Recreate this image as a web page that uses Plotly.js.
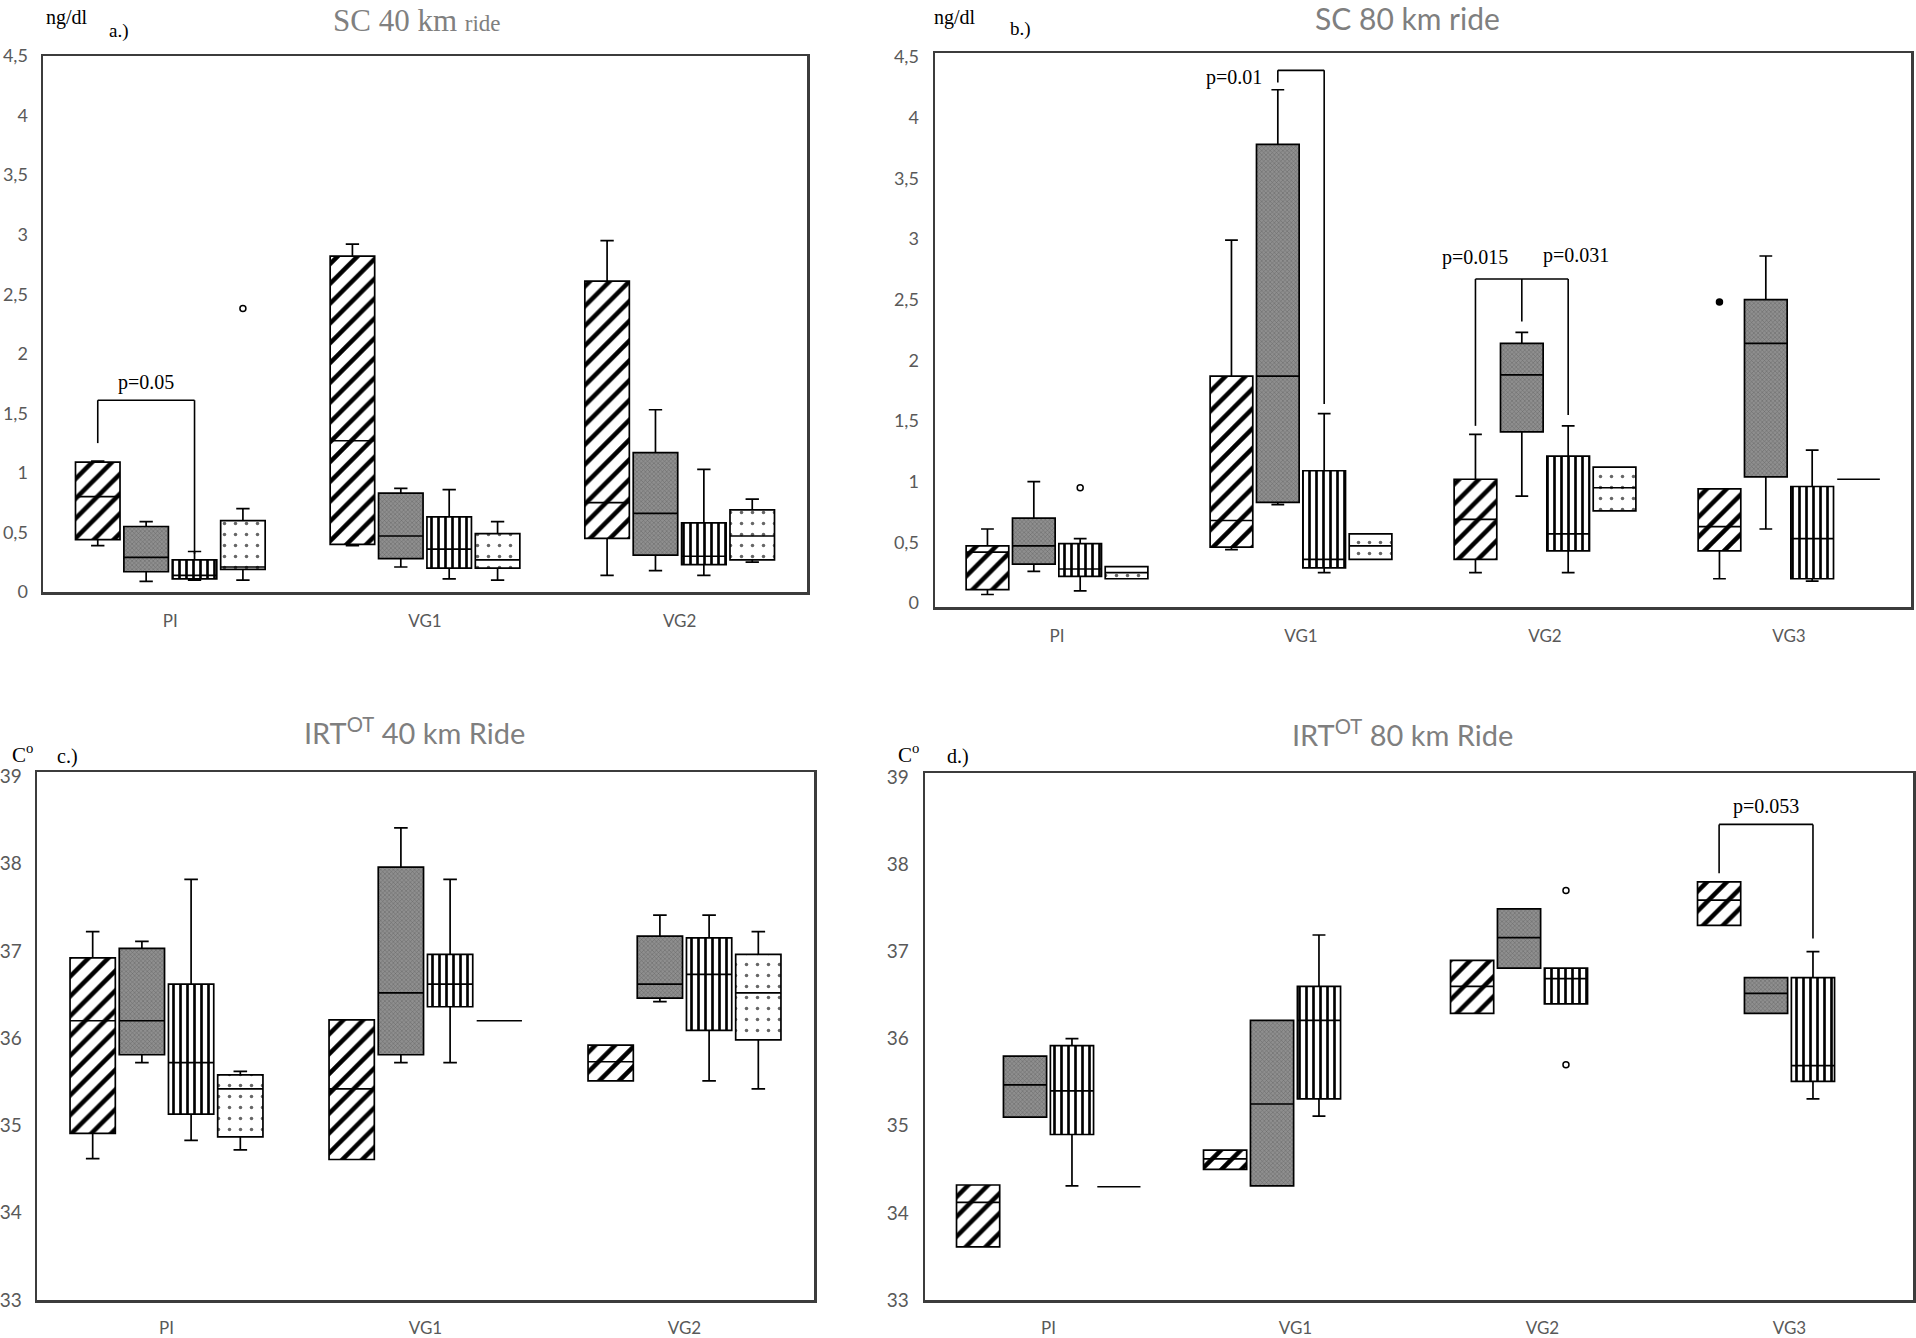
<!DOCTYPE html>
<html>
<head>
<meta charset="utf-8">
<script src="https://cdn.plot.ly/plotly-3.0.1.min.js"></script>
<style>
  body { margin: 0; background: #fff; }
  #plot { width: 1916px; height: 1338px; }
</style>
</head>
<body>
<div id="plot"></div>
<script>
// categories
const catsA = ["PI", "VG1", "VG2"];
const catsB = ["PI", "VG1", "VG2", "VG3"];
const catsC = ["PI", "VG1", "VG2"];
const catsD = ["PI", "VG1", "VG2", "VG3"];

// series order: diagonal hatch, grey, vertical stripes, dotted
// each array is [series][category], null = no box

// a.) SC 40 km ride
const aLow  = [[0.39, 0.39, 0.14], [0.09, 0.21, 0.18], [0.10, 0.11, 0.14], [0.10, 0.10, 0.25]];
const aQ1   = [[0.44, 0.40, 0.45], [0.17, 0.28, 0.31], [0.11, 0.20, 0.23], [0.19, 0.20, 0.27]];
const aMed  = [[0.80, 1.27, 0.75], [0.29, 0.47, 0.66], [0.14, 0.36, 0.30], [0.21, 0.27, 0.47]];
const aQ3   = [[1.09, 2.82, 2.61], [0.55, 0.83, 1.17], [0.27, 0.63, 0.58], [0.60, 0.49, 0.69]];
const aHigh = [[1.10, 2.92, 2.95], [0.59, 0.87, 1.53], [0.34, 0.86, 1.03], [0.70, 0.59, 0.78]];
const aOut  = [[[], [], []], [[], [], []], [[], [], []], [[2.38], [], []]];

// b.) SC 80 km ride
const bLow  = [[0.07, 0.44, 0.25, 0.20], [0.26, 0.81, 0.88, 0.61], [0.10, 0.25, 0.25, 0.18], [0.20, 0.36, 0.76, 1.02]];
const bQ1   = [[0.11, 0.46, 0.36, 0.43], [0.32, 0.83, 1.41, 1.04], [0.22, 0.29, 0.43, 0.20], [0.20, 0.36, 0.76, 1.02]];
const bMed  = [[0.42, 0.68, 0.69, 0.63], [0.47, 1.87, 1.88, 2.14], [0.28, 0.36, 0.57, 0.53], [0.25, 0.47, 0.95, 1.02]];
const bQ3   = [[0.47, 1.87, 1.02, 0.94], [0.70, 3.78, 2.14, 2.50], [0.49, 1.09, 1.21, 0.96], [0.30, 0.57, 1.12, 1.02]];
const bHigh = [[0.61, 2.99, 1.39, 0.94], [1.00, 4.23, 2.23, 2.86], [0.53, 1.56, 1.46, 1.26], [0.30, 0.57, 1.12, 1.02]];
const bOut  = [[[], [], [], [2.48]], [[], [], [], []], [[0.95], [], [], []], [[], [], [], []]];

// c.) IRT 40 km Ride
const cLow  = [[34.62, 34.61, 35.51], [35.72, 35.72, 36.42], [34.83, 35.72, 35.51], [34.72, 36.20, 35.42]];
const cQ1   = [[34.91, 34.61, 35.51], [35.81, 35.81, 36.46], [35.13, 36.36, 36.09], [34.87, 36.20, 35.98]];
const cMed  = [[36.20, 35.42, 35.73], [36.20, 36.52, 36.62], [35.72, 36.62, 36.73], [35.42, 36.20, 36.52]];
const cQ3   = [[36.92, 36.21, 35.92], [37.03, 37.96, 37.17], [36.62, 36.96, 37.15], [35.58, 36.20, 36.96]];
const cHigh = [[37.22, 36.21, 35.92], [37.11, 38.41, 37.41], [37.82, 37.82, 37.41], [35.62, 36.20, 37.22]];
const cOut  = [[[], [], []], [[], [], []], [[], [], []], [[], [], []]];

// d.) IRT 80 km Ride
const dLow  = [[33.61, 34.50, 36.29, 37.30], [35.10, 34.31, 36.81, 36.29], [34.31, 35.11, 36.40, 35.31], [34.30, null, null, null]];
const dQ1   = [[33.61, 34.50, 36.29, 37.30], [35.10, 34.31, 36.81, 36.29], [34.90, 35.31, 36.40, 35.51], [34.30, null, null, null]];
const dMed  = [[34.12, 34.62, 36.60, 37.59], [35.47, 35.25, 37.16, 36.52], [35.40, 36.21, 36.69, 35.69], [34.30, null, null, null]];
const dQ3   = [[34.32, 34.72, 36.90, 37.80], [35.80, 36.21, 37.49, 36.70], [35.92, 36.60, 36.81, 36.70], [34.30, null, null, null]];
const dHigh = [[34.32, 34.72, 36.90, 37.80], [35.80, 36.21, 37.49, 36.70], [36.00, 37.19, 36.81, 37.00], [34.30, null, null, null]];
const dOut  = [[[], [], [], []], [[], [], [], []], [[], [], [37.70, 35.70], []], [[], [], [], []]];

const BOXGAP = 0.24;
const GROUPGAP = 0.08;

// fill look of each series
const seriesStyles = [
  { shape: "/", bg: "#ffffff", fg: "#000000", size: 14, solidity: 0.32 },
  { shape: "x", bg: "#8f8f8f", fg: "#666666", size: 3, solidity: 0.3 },
  { shape: "|", bg: "#ffffff", fg: "#000000", size: 7, solidity: 0.38 },
  { shape: ".", bg: "#ffffff", fg: "#666666", size: 11, solidity: 0.08 },
];

// bars (pattern fill) live on x<n>, boxes (outline, median, whiskers) on an overlaid x axis
function panelTraces(n, boxAxis, cats, low, q1, med, q3, high, outs, outSym) {
  let traces = [];
  for (let k = 0; k < 4; k++) {
    let idx = cats.map((c, i) => i).filter((i) => q1[k][i] !== null);
    let xs = idx.map((i) => cats[i]);
    let st = seriesStyles[k];
    traces.push({
      type: "bar",
      x: xs,
      base: idx.map((i) => q1[k][i]),
      y: idx.map((i) => q3[k][i] - q1[k][i]),
      xaxis: "x" + n,
      yaxis: "y" + n,
      offsetgroup: "s" + k,
      marker: {
        color: st.bg,
        line: { width: 0 },
        pattern: { shape: st.shape, fgcolor: st.fg, bgcolor: st.bg, size: st.size, solidity: st.solidity },
      },
      hoverinfo: "skip",
      showlegend: false,
    });
    let box = {
      type: "box",
      orientation: "v",
      x: xs,
      q1: idx.map((i) => q1[k][i]),
      median: idx.map((i) => med[k][i]),
      q3: idx.map((i) => q3[k][i]),
      lowerfence: idx.map((i) => low[k][i]),
      upperfence: idx.map((i) => high[k][i]),
      offsetgroup: "s" + k,
      whiskerwidth: 0.3,
      fillcolor: "rgba(0,0,0,0)",
      line: { color: "#000000", width: 1.7 },
      xaxis: boxAxis,
      yaxis: "y" + n,
      hoverinfo: "skip",
      showlegend: false,
    };
    let hasOut = idx.some((i) => outs[k][i].length > 0);
    if (hasOut) {
      // boxes without outliers get their median as the only sample, which stays hidden inside the fences
      box.y = idx.map((i) => (outs[k][i].length > 0 ? outs[k][i] : [med[k][i]]));
      box.boxpoints = "outliers";
      box.pointpos = 0;
      box.jitter = 0;
      box.marker = { symbol: outSym[k], size: 6, color: "#000000", line: { color: "#000000", width: 1.5 } };
    } else {
      box.boxpoints = false;
    }
    traces.push(box);
  }
  return traces;
}

const openSym = ["circle-open", "circle-open", "circle-open", "circle-open"];
const bSym = ["circle", "circle-open", "circle-open", "circle-open"];

let data = []
  .concat(panelTraces("", "x5", catsA, aLow, aQ1, aMed, aQ3, aHigh, aOut, openSym))
  .concat(panelTraces(2, "x6", catsB, bLow, bQ1, bMed, bQ3, bHigh, bOut, bSym))
  .concat(panelTraces(3, "x7", catsC, cLow, cQ1, cMed, cQ3, cHigh, cOut, openSym))
  .concat(panelTraces(4, "x8", catsD, dLow, dQ1, dMed, dQ3, dHigh, dOut, openSym));

const W = 1916;
const H = 1338;
const px = (x) => x / W;
const py = (y) => 1 - y / H;

function xAxis(x0, x1, yName, cats, standoff) {
  return {
    domain: [px(x0), px(x1)],
    anchor: yName,
    type: "category",
    categoryorder: "array",
    categoryarray: cats,
    range: [-0.5, cats.length - 0.5],
    showline: true,
    mirror: true,
    linecolor: "#3c3c3c",
    linewidth: 2.5,
    ticks: "",
    showgrid: false,
    zeroline: false,
    ticklabelstandoff: standoff,
    tickfont: { family: "Lato", size: 17, color: "#595959" },
    fixedrange: true,
  };
}

// invisible twin of a category axis, carrying the boxes
function twinAxis(base, yName, cats) {
  return {
    overlaying: base,
    anchor: yName,
    type: "category",
    categoryorder: "array",
    categoryarray: cats,
    range: [-0.5, cats.length - 0.5],
    visible: false,
    showgrid: false,
    zeroline: false,
    fixedrange: true,
  };
}

function yAxis(y0, y1, xName, range, dtick, standoff, fontSize) {
  return {
    domain: [py(y1), py(y0)],
    anchor: xName,
    range: range,
    dtick: dtick,
    tick0: 0,
    showline: true,
    mirror: true,
    linecolor: "#3c3c3c",
    linewidth: 2.5,
    ticks: "",
    showgrid: false,
    zeroline: false,
    ticklabelstandoff: standoff,
    tickfont: { family: "Lato", size: fontSize, color: "#595959" },
    fixedrange: true,
  };
}

// centre of the box of series k inside category ci
function slotX(ci, k) {
  let g = 1 - BOXGAP;
  return ci - g / 2 + ((k + 0.5) * g) / 4;
}

function line(xr, yr, x0, y0, x1, y1) {
  return { type: "line", xref: xr, yref: yr, x0: x0, y0: y0, x1: x1, y1: y1, line: { color: "#000000", width: 1.6 } };
}

let shapes = [
  // a.) p=0.05
  line("x", "y", slotX(0, 0), 1.25, slotX(0, 0), 1.61),
  line("x", "y", slotX(0, 0), 1.61, slotX(0, 2), 1.61),
  line("x", "y", slotX(0, 2), 1.61, slotX(0, 2), 0.32),
  // b.) p=0.01
  line("x2", "y2", slotX(1, 1), 4.29, slotX(1, 1), 4.39),
  line("x2", "y2", slotX(1, 1), 4.39, slotX(1, 2), 4.39),
  line("x2", "y2", slotX(1, 2), 4.39, slotX(1, 2), 1.64),
  // b.) p=0.015 / p=0.031
  line("x2", "y2", slotX(2, 0), 1.46, slotX(2, 0), 2.67),
  line("x2", "y2", slotX(2, 0), 2.67, slotX(2, 2), 2.67),
  line("x2", "y2", slotX(2, 2), 2.67, slotX(2, 2), 1.55),
  line("x2", "y2", slotX(2, 1), 2.67, slotX(2, 1), 2.32),
  // d.) p=0.053
  line("x4", "y4", slotX(3, 0), 37.9, slotX(3, 0), 38.46),
  line("x4", "y4", slotX(3, 0), 38.46, slotX(3, 2), 38.46),
  line("x4", "y4", slotX(3, 2), 38.46, slotX(3, 2), 37.15),
];

const serif = { family: "Liberation Serif", size: 20, color: "#000000" };
const titleFont = { family: "Lato", size: 29, color: "#7f7f7f" };

function note(text, x, y, font, xanchor) {
  return { text: text, x: px(x), y: py(y), xref: "paper", yref: "paper", showarrow: false, font: font, xanchor: xanchor || "center", yanchor: "middle" };
}

function pNote(text, xr, yr, x, y, xanchor, xshift) {
  return { text: text, x: x, y: y, xref: xr, yref: yr, showarrow: false, font: serif, xanchor: xanchor || "center", yanchor: "middle", xshift: xshift || 0 };
}

let annotations = [
  note("SC 40 km <span style='font-size:23px'>ride</span>", 417, 20, { family: "Liberation Serif", size: 31, color: "#808080" }),
  note("SC 80 km ride", 1407, 18, { family: "Lato", size: 30, color: "#7f7f7f" }),
  note("IRT<sup>OT</sup> 40 km Ride", 414, 731, titleFont),
  note("IRT<sup>OT</sup> 80 km Ride", 1402, 733, titleFont),
  note("ng/dl", 44, 17, serif, "left"),
  note("a.)", 107, 31, { family: "Liberation Serif", size: 19, color: "#000000" }, "left"),
  note("ng/dl", 932, 17, serif, "left"),
  note("b.)", 1008, 29, { family: "Liberation Serif", size: 19, color: "#000000" }, "left"),
  note("C<sup>o</sup>", 10, 753, { family: "Liberation Serif", size: 21, color: "#000000" }, "left"),
  note("c.)", 55, 756, serif, "left"),
  note("C<sup>o</sup>", 896, 753, { family: "Liberation Serif", size: 21, color: "#000000" }, "left"),
  note("d.)", 945, 756, serif, "left"),
  pNote("p=0.05", "x", "y", (slotX(0, 0) + slotX(0, 2)) / 2, 1.76),
  pNote("p=0.01", "x2", "y2", slotX(1, 1), 4.33, "right", -14),
  pNote("p=0.015", "x2", "y2", slotX(2, 0), 2.85),
  pNote("p=0.031", "x2", "y2", slotX(2, 2), 2.86, "center", 8),
  pNote("p=0.053", "x4", "y4", (slotX(3, 0) + slotX(3, 2)) / 2, 38.66),
];

let layout = {
  width: W,
  height: H,
  margin: { l: 0, r: 0, t: 0, b: 0 },
  paper_bgcolor: "#ffffff",
  plot_bgcolor: "#ffffff",
  separators: ", ",
  boxmode: "group",
  boxgap: BOXGAP,
  boxgroupgap: GROUPGAP,
  barmode: "group",
  bargap: BOXGAP,
  bargroupgap: GROUPGAP,
  xaxis: xAxis(43, 807, "y", catsA, 12),
  yaxis: yAxis(56, 592, "x", [0, 4.5], 0.5, 9, 18),
  xaxis2: xAxis(935, 1911, "y2", catsB, 12),
  yaxis2: yAxis(53, 607, "x2", [-0.033, 4.533], 0.5, 10, 18),
  xaxis3: xAxis(37, 814, "y3", catsC, 11),
  yaxis3: yAxis(772, 1300, "x3", [33, 39.05], 1, 9, 19),
  xaxis4: xAxis(925, 1913, "y4", catsD, 11),
  yaxis4: yAxis(773, 1300, "x4", [33, 39.05], 1, 10, 19),
  xaxis5: twinAxis("x", "y", catsA),
  xaxis6: twinAxis("x2", "y2", catsB),
  xaxis7: twinAxis("x3", "y3", catsC),
  xaxis8: twinAxis("x4", "y4", catsD),
  shapes: shapes,
  annotations: annotations,
};

Plotly.newPlot("plot", data, layout, { staticPlot: true });
</script>
</body>
</html>
